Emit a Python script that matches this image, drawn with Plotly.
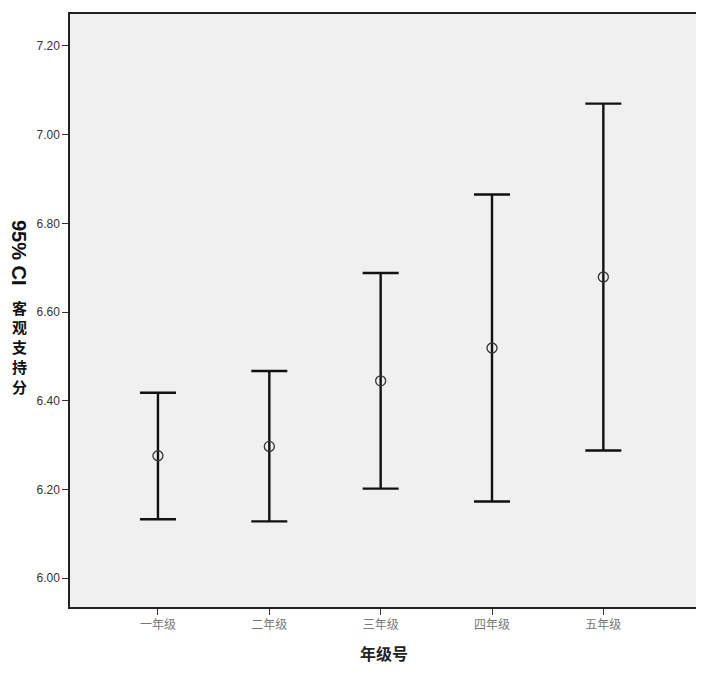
import plotly.graph_objects as go

grades = ["一年级", "二年级", "三年级", "四年级", "五年级"]
means = [6.276, 6.297, 6.445, 6.519, 6.679]
upper = [6.418, 6.467, 6.688, 6.865, 7.070]
lower = [6.133, 6.128, 6.202, 6.173, 6.288]
y_ticks = [6.0, 6.2, 6.4, 6.6, 6.8, 7.0, 7.2]

err_plus = [u - m for u, m in zip(upper, means)]
err_minus = [m - l for m, l in zip(means, lower)]

fig = go.Figure()

fig.add_trace(go.Scatter(
    x=grades,
    y=means,
    mode='markers',
    marker=dict(symbol='circle-open', size=10, color='#333333',
                line=dict(width=1.3, color='#333333')),
    error_y=dict(type='data', symmetric=False, array=err_plus,
                 arrayminus=err_minus, color='#111111',
                 thickness=2.4, width=18),
    showlegend=False,
    hoverinfo='skip'
))

# y title: latin part rotated, CJK part stacked upright (SPSS style)
fig.add_annotation(
    xref='paper', yref='paper', x=0, y=0.597, xshift=-51,
    text='<b>95% CI</b>', textangle=90, showarrow=False,
    xanchor='center', yanchor='middle', borderpad=0,
    font=dict(family='Liberation Sans', size=20, color='#111111')
)
for i, ch in enumerate("客观支持分"):
    fig.add_annotation(
        xref='paper', yref='paper', x=0, y=0.5059 - i * 0.0336, xshift=-51,
        text=f'<b>{ch}</b>', showarrow=False,
        xanchor='center', yanchor='middle', borderpad=0,
        font=dict(family='Noto Sans CJK SC', size=15, color='#111111')
    )

fig.update_layout(
    width=696,
    height=683,
    margin=dict(l=62, r=6, t=4, b=84),
    paper_bgcolor='white',
    plot_bgcolor='#f0f0f0',
    xaxis=dict(
        range=[-0.79, 4.85],
        showline=True, mirror=True, linecolor='#222222', linewidth=1.5,
        ticks='outside', ticklen=6, tickcolor='#333333', tickwidth=1.2,
        showgrid=False, zeroline=False,
        tickfont=dict(family='Noto Sans CJK SC', size=12, color='#777777'),
        title=dict(text='<b>年级号</b>', standoff=18,
                   font=dict(family='Noto Sans CJK SC', size=16, color='#222222'))
    ),
    yaxis=dict(
        range=[5.935, 7.272],
        tickvals=y_ticks,
        ticktext=[f"{v:.2f}" for v in y_ticks],
        showline=True, mirror=True, linecolor='#222222', linewidth=1.5,
        ticks='outside', ticklen=6, tickcolor='#333333', tickwidth=1.2,
        showgrid=False, zeroline=False,
        tickfont=dict(family='Liberation Sans', size=12, color='#333333')
    )
)

fig.write_html("out.html")
